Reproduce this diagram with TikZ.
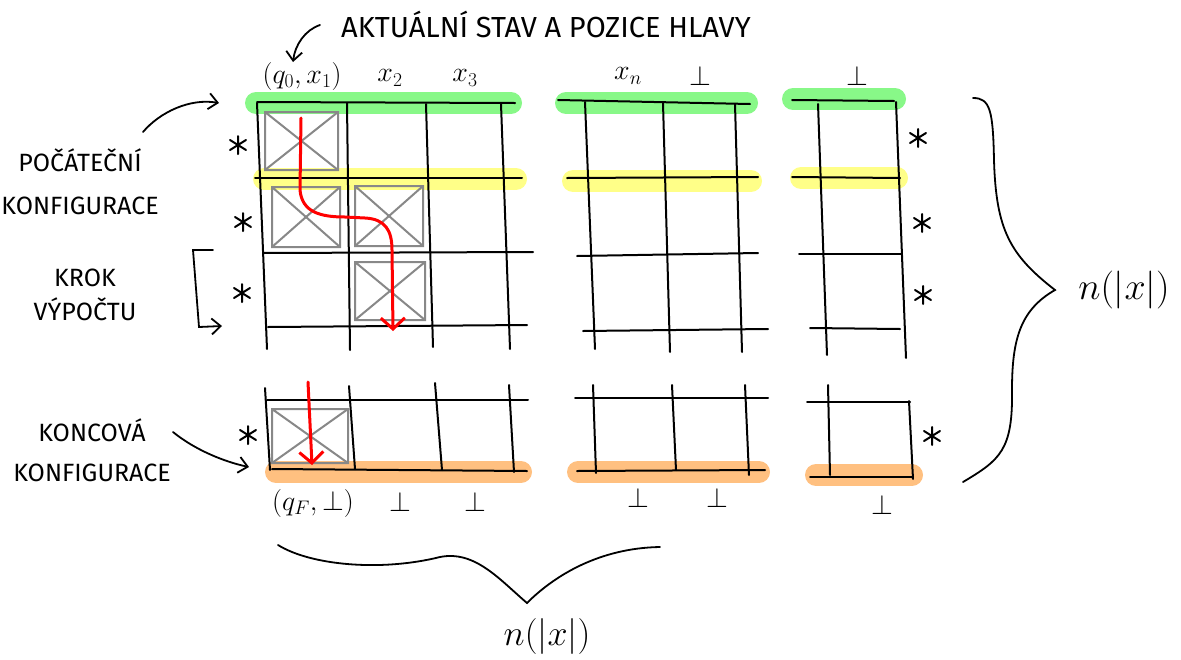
\RequirePackage{fix-cm}
\documentclass[tikz,border=0pt]{standalone}
\usepackage{fontspec}
\setmainfont{Fira Sans}
\usetikzlibrary{arrows.meta}
\definecolor{hgreen}{HTML}{88F888}
\definecolor{hyellow}{HTML}{FFFF88}
\definecolor{horange}{HTML}{FFC080}
\definecolor{boxgray}{HTML}{888888}
\tikzset{
  gl/.style={line width=2pt, black, line cap=round},
  hl/.style={line width=22pt, line cap=round},
  cellbox/.style={draw=boxgray, line width=2pt},
  redarr/.style={red, line width=3pt, line cap=round, -{Straight Barb[length=11pt,width=24pt,line width=3pt]}},
  pen/.style={line width=1.8pt, black, line cap=round, -{Straight Barb[length=9pt,width=16pt,line width=1.8pt]}},
  brace/.style={line width=1.8pt, black, line cap=round},
  lbl/.style={font=\fontsize{29}{34}\selectfont},
  mlbl/.style={font=\fontsize{28}{32}\selectfont},
  astr/.pic={\draw[line width=2pt,line cap=round] (0,-9)--(0,9) (-8,-5)--(8,5) (-8,5)--(8,-5);}
}
\newcommand{\xbox}[2]{\draw[cellbox] (#1) rectangle (#2) (#1) -- (#2); \draw[cellbox] (#1 -| #2) -- (#1 |- #2);}
\begin{document}
\begin{tikzpicture}[x=1pt,y=-1pt]
\useasboundingbox (0,0) rectangle (1181,659);
\fill[white] (0,0) rectangle (1181,659);

% highlights
\draw[hl,hgreen] (256,103) -- (511,103);
\draw[hl,hgreen] (566,103) -- (747,103);
\draw[hl,hgreen] (793,99) -- (895,99);
\draw[hl,hyellow] (264,179) -- (516,179);
\draw[hl,hyellow] (573,181) -- (751,181);
\draw[hl,hyellow] (801,178) -- (897,178);
\draw[hl,horange] (276,472) -- (521,472);
\draw[hl,horange] (578,472) -- (759,472);
\draw[hl,horange] (816,475) -- (912,475);

% gray boxes
\coordinate (b1a) at (265,112); \coordinate (b1b) at (338,170);
\coordinate (b2a) at (272,187); \coordinate (b2b) at (340,247);
\coordinate (b3a) at (355,186); \coordinate (b3b) at (423,246);
\coordinate (b4a) at (355,262); \coordinate (b4b) at (425,320);
\coordinate (b5a) at (272,409); \coordinate (b5b) at (348,463);
\xbox{b1a}{b1b}
\xbox{b2a}{b2b}
\xbox{b3a}{b3b}
\xbox{b4a}{b4b}
\xbox{b5a}{b5b}

% top-left block
\draw[gl] (257,102) -- (515,103);
\draw[gl] (255,178) -- (522,178);
\draw[gl] (263,253) -- (533,252);
\draw[gl] (268,327) -- (527,325);
\draw[gl] (257,103) -- (267,349);
\draw[gl] (347,103) -- (350,350);
\draw[gl] (426,104) -- (433,347);
\draw[gl] (501,104) -- (510,349);

% top-middle block
\draw[gl] (558,100) -- (750,104);
\draw[gl] (567,178) -- (758,177);
\draw[gl] (577,256) -- (758,253);
\draw[gl] (583,331) -- (768,329);
\draw[gl] (585,102) -- (595,349);
\draw[gl] (663,103) -- (670,352);
\draw[gl] (735,104) -- (742,352);

% top-right block
\draw[gl] (792,100) -- (894,101);
\draw[gl] (792,177) -- (900,178);
\draw[gl] (799,254) -- (902,254);
\draw[gl] (810,328) -- (900,329);
\draw[gl] (818,104) -- (827,355);
\draw[gl] (896,102) -- (906,358);

% bottom-left block
\draw[gl] (267,400) -- (528,400);
\draw[gl] (272,469) -- (527,471);
\draw[gl] (265,388) -- (270,470);
\draw[gl] (349,386) -- (355,469);
\draw[gl] (435,383) -- (442,470);
\draw[gl] (509,385) -- (514,472);

% bottom-middle block
\draw[gl] (575,398) -- (768,398);
\draw[gl] (577,471) -- (765,470);
\draw[gl] (593,385) -- (596,473);
\draw[gl] (672,385) -- (676,470);
\draw[gl] (745,385) -- (749,475);

% bottom-right block
\draw[gl] (807,402) -- (910,402);
\draw[gl] (810,477) -- (913,477);
\draw[gl] (828,385) -- (830,475);
\draw[gl] (909,401) -- (913,479);

% stars
\pic at (238,145) {astr};
\pic at (243,222) {astr};
\pic at (242,293) {astr};
\pic at (248,435) {astr};
\pic at (918,138) {astr};
\pic at (922,223) {astr};
\pic at (923,295) {astr};
\pic at (932,436) {astr};

% red path
\coordinate (r1) at (301,118);
\coordinate (r2) at (393,331);
\draw[redarr] (r1) -- (300,190) .. controls (302,212) and (320,217) .. (345,217)
  -- (365,218) .. controls (385,219) and (392,230) .. (392,250) -- (r2);
\coordinate (r3) at (308,382);
\coordinate (r4) at (312,465);
\draw[redarr] (r3) -- (r4);

% column labels
\node[mlbl] (c1) at (302,76) {$(q_0,x_1)$};
\node[mlbl] (c2) at (390,78) {$x_2$};
\node[mlbl] (c3) at (465,78) {$x_3$};
\node[mlbl] (c4) at (628,76) {$x_n$};
\node[mlbl] (c5) at (700,76) {$\perp$};
\node[mlbl] (c6) at (857,76) {$\perp$};
\node[mlbl] (d1) at (313,503) {$(q_F,\perp)$};
\node[mlbl] (d2) at (400,502) {$\perp$};
\node[mlbl] (d3) at (475,502) {$\perp$};
\node[mlbl] (d4) at (638,498) {$\perp$};
\node[mlbl] (d5) at (717,498) {$\perp$};
\node[mlbl] (d6) at (882,505) {$\perp$};

% side labels
\node[lbl] (akt) at (546,24) {AKTUÁLNÍ STAV A POZICE HLAVY};
\node[align=center,font=\fontsize{25}{43}\selectfont] (pocat) at (80,182) {POČÁTEČNÍ\\KONFIGURACE};
\node[align=center,font=\fontsize{25}{34}\selectfont] (krok) at (85,295) {KROK\\VÝPOČTU};
\node[align=center,font=\fontsize{25}{40}\selectfont] (konc) at (92,450) {KONCOVÁ\\KONFIGURACE};
\node[font=\fontsize{38}{42}\selectfont] (nr) at (1124,290) {$n(|x|)$};
\node[font=\fontsize{36}{40}\selectfont] (nb) at (547,636) {$n(|x|)$};

% pen arrows
\coordinate (a1) at (320,25); \coordinate (a2) at (293,62);
\draw[pen] (a1) .. controls (305,30) and (295,45) .. (a2);
\coordinate (p1) at (143,132); \coordinate (p2) at (219,103);
\draw[pen] (p1) .. controls (160,112) and (190,98) .. (p2);
\coordinate (k1) at (173,432); \coordinate (k2) at (249,467);
\draw[pen] (k1) .. controls (195,450) and (225,462) .. (k2);
\coordinate (s1) at (213,250); \coordinate (s2) at (222,326);
\draw[pen] (s1) -- (193,250) -- (199,327) -- (s2);

% braces
\draw[brace] (973,98) .. controls (990,98) and (993,110) .. (994,160)
  .. controls (996,230) and (1010,255) .. (1055,290)
  .. controls (1020,310) and (1012,340) .. (1012,390)
  .. controls (1013,450) and (1000,460) .. (963,482);
\draw[brace] (278,545) .. controls (310,565) and (380,572) .. (440,557)
  .. controls (475,550) and (500,580) .. (527,603)
  .. controls (555,575) and (600,548) .. (660,547);
\end{tikzpicture}
\end{document}
